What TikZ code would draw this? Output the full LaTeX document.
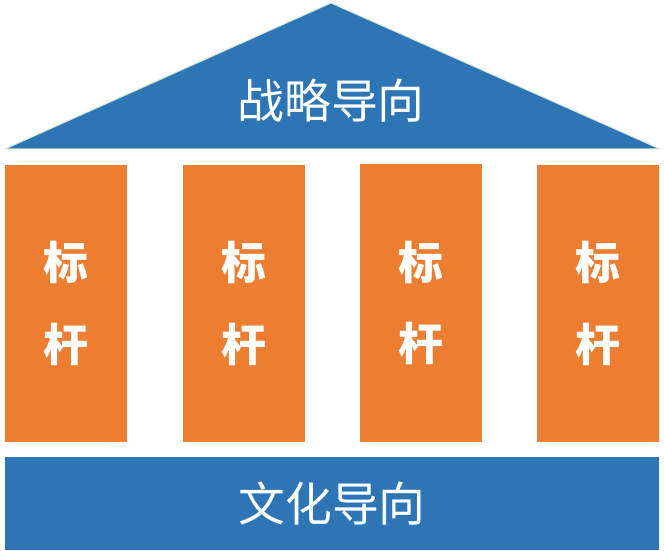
\documentclass[tikz,border=0pt]{standalone}
\usepackage{fontspec}
\newfontfamily\cjk{Noto Sans CJK SC}
\usetikzlibrary{positioning}
\definecolor{roofblue}{HTML}{2E75B6}
\definecolor{pillarorange}{HTML}{ED7D31}
\definecolor{roofedge}{HTML}{D5E8D4}
\tikzset{
  pillar/.style={fill=pillarorange,draw=none,minimum width=122bp,minimum height=277bp,
    inner sep=0pt,text=white,align=center,font=\cjk\bfseries\fontsize{45}{82}\selectfont},
  base/.style={fill=roofblue,draw=none,minimum width=654bp,minimum height=93bp,
    inner sep=0pt,text=white,font=\cjk\fontsize{47}{50}\selectfont},
  label/.style={text=white,inner sep=0pt,font=\cjk\fontsize{47}{50}\selectfont},
}
\begin{document}
\begin{tikzpicture}[x=1bp,y=-1bp,line join=bevel,]
%%
\useasboundingbox (0,0) rectangle (664,551);
\fill [roofblue,draw=roofedge,line width=1bp] (5,149) -- (331,3) -- (660,149) -- cycle;
\node (roof) at (331,101) [label] {战略导向};
  \node (pillar_1) at (66,303.5) [pillar] {标\\杆};
  \node (pillar_2) at (243.5,303.5) [pillar] {标\\杆};
  \node (pillar_3) at (420.5,303) [pillar] {标\\杆};
  \node (pillar_4) at (597.5,303.5) [pillar] {标\\杆};
  \node (base) at (332,503.5) [base] {文化导向};
%
\end{tikzpicture}
\end{document}
